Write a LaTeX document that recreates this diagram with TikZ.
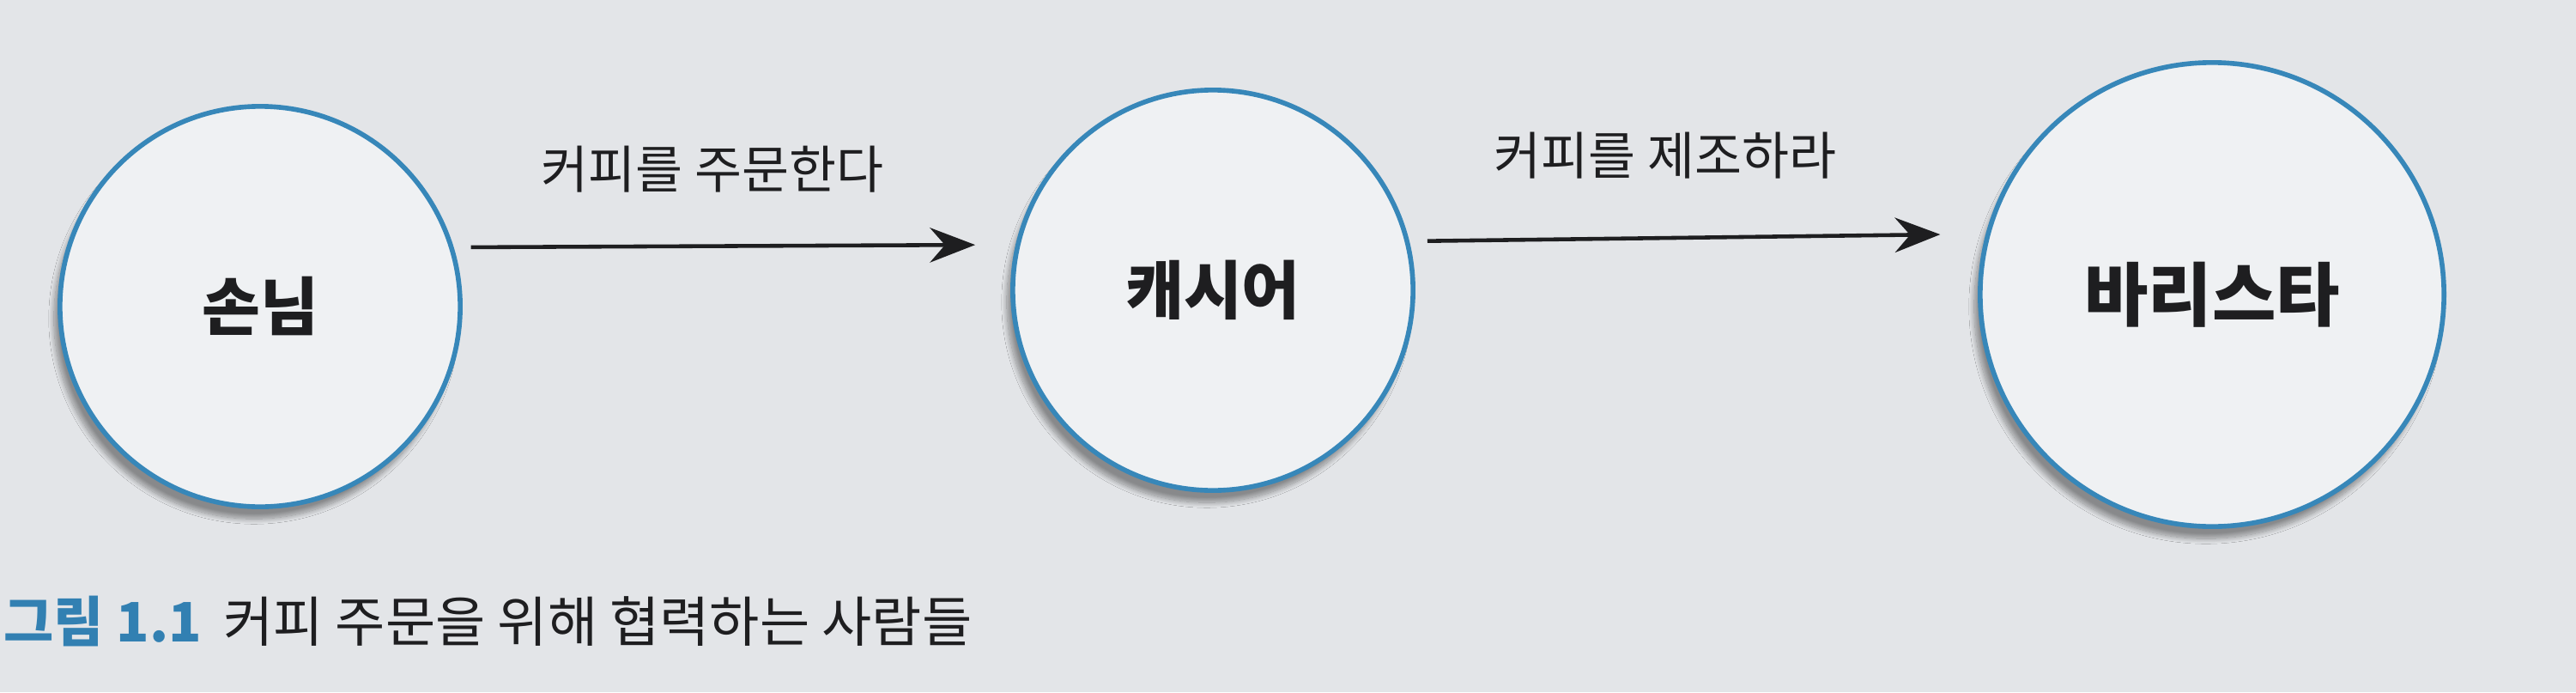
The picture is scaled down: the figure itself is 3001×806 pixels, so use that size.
\documentclass[tikz,border=0pt]{standalone}
\usepackage{fontspec}
\newfontfamily\kr{Noto Sans CJK KR}
\usetikzlibrary{arrows.meta,shadows.blur}
\definecolor{paper}{RGB}{227,229,232}
\definecolor{disc}{RGB}{239,241,243}
\definecolor{ring}{RGB}{55,135,185}
\definecolor{capblue}{RGB}{50,128,178}
\definecolor{ink}{RGB}{30,30,32}
\tikzset{
  actor/.style={circle, draw=ring, line width=1.6pt, fill=disc, inner sep=0pt,
    minimum size=4.66cm, font=\kr\bfseries\fontsize{21}{24}\selectfont, text=ink,
    blur shadow={shadow xshift=-2pt, shadow yshift=-4pt, shadow blur steps=14, shadow opacity=40}},
  msg/.style={line width=1.3pt, draw=ink, -{Stealth[length=15pt, width=11.5pt, inset=5pt]}},
  lbl/.style={font=\kr\fontsize{17}{20}\selectfont, text=ink, inner sep=0pt},
}
\begin{document}
\begin{tikzpicture}[x=0.01cm, y=-0.01cm]
\useasboundingbox[fill=paper] (0,0) rectangle (3001,806);
\node[actor] (guest) at (303,357) {손님};
\node[actor] (cashier) at (1413,338) {캐시어};
\node[actor, minimum size=5.4cm, font=\kr\bfseries\fontsize{23}{26}\selectfont] (barista) at (2577,343) {바리스타};
\draw[msg, shorten <=0.2cm, shorten >=0.47cm] (guest.17) -- (cashier.167);
\draw[msg, shorten <=0.21cm, shorten >=0.53cm] (cashier.14) -- (barista.165);
\node[lbl] (l1) at (830,197) {커피를 주문한다};
\node[lbl] (l2) at (1940,181) {커피를 제조하라};
\node[anchor=west, inner sep=0pt, font=\kr\fontsize{18}{21}\selectfont, text=ink] (cap) at (4,723)
  {{\color{capblue}\bfseries 그림 1.1}\hspace{0.4em}커피 주문을 위해 협력하는 사람들};
\end{tikzpicture}
\end{document}
